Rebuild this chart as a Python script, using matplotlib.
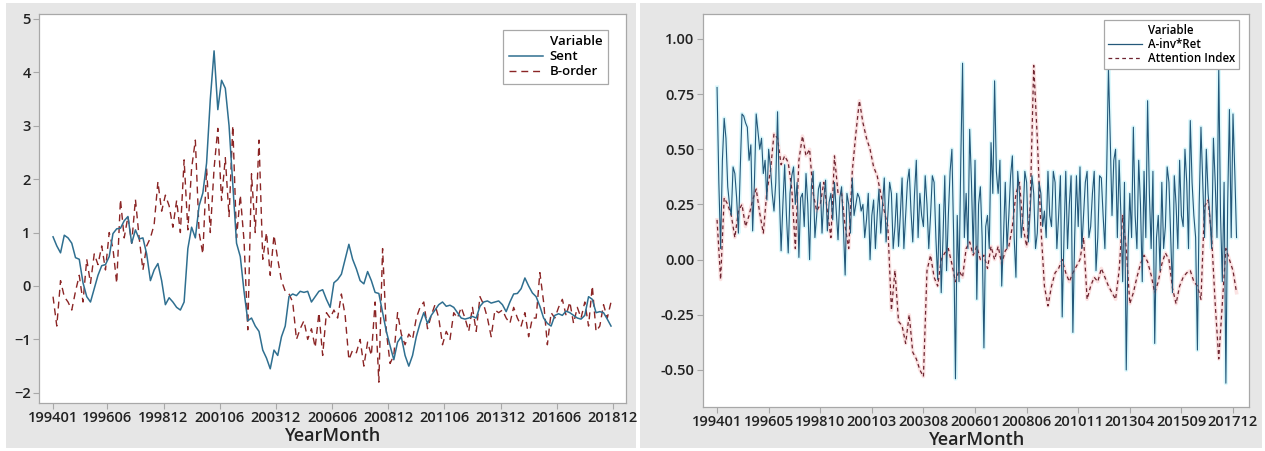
import numpy as np
import matplotlib.pyplot as plt
from matplotlib.lines import Line2D
from matplotlib.patches import Rectangle

plt.rcParams['font.family'] = ['Open Sans', 'DejaVu Sans']

# ---- left panel: sentiment vs B-order (every second month, 199401-201812) ----
sent = [0.92, 0.75, 0.62, 0.95, 0.9, 0.8, 0.53, 0.5, 0.06, -0.2,
        -0.3, -0.05, 0.2, 0.38, 0.4, 0.55, 0.98, 1.07, 1.08, 1.22,
        1.3, 0.8, 1.05, 0.88, 0.9, 0.6, 0.1, 0.3, 0.42, 0.1,
        -0.35, -0.22, -0.3, -0.4, -0.45, -0.3, 0.7, 1.1, 0.9, 1.5,
        1.74, 2.3, 3.5, 4.4, 3.3, 3.85, 3.7, 3.0, 1.9, 0.8,
        0.55, -0.1, -0.65, -0.6, -0.75, -0.85, -1.2, -1.35, -1.55, -1.2,
        -1.3, -0.95, -0.75, -0.2, -0.15, -0.18, -0.1, -0.12, -0.1, -0.3,
        -0.2, -0.1, -0.07, -0.25, -0.4, 0.06, 0.12, 0.22, 0.5, 0.78,
        0.5, 0.32, 0.1, 0.04, 0.27, 0.1, -0.12, -0.14, -0.5, -0.85,
        -1.12, -1.38, -1.05, -0.95, -1.3, -1.5, -1.3, -0.95, -0.7, -0.5,
        -0.7, -0.55, -0.45, -0.35, -0.3, -0.38, -0.36, -0.4, -0.5, -0.6,
        -0.62, -0.6, -0.57, -0.6, -0.38, -0.3, -0.28, -0.32, -0.3, -0.28,
        -0.35, -0.48, -0.3, -0.15, -0.14, -0.05, 0.15, 0.0, -0.13, -0.2,
        -0.38, -0.6, -0.7, -0.75, -0.55, -0.52, -0.55, -0.47, -0.5, -0.55,
        -0.6, -0.62, -0.55, -0.2, -0.25, -0.5, -0.48, -0.5, -0.62, -0.75]

border = [-0.2, -0.75, 0.1, -0.2, -0.3, -0.45, -0.1, 0.2, -0.3, 0.5,
          0.05, 0.6, 0.4, 0.75, 0.3, 1.0, 0.7, 0.05, 1.62, 0.9,
          1.3, 0.8, 1.62, 0.9, 0.3, 0.75, 0.9, 1.15, 1.95, 1.4,
          1.7, 1.5, 1.1, 1.6, 1.0, 2.36, 1.05, 2.2, 2.73, 1.0,
          0.6, 2.2, 1.0, 2.2, 2.95, 1.6, 2.4, 1.3, 3.0, 0.9,
          1.7, 0.85, -0.82, 2.1, 1.0, 2.73, 0.5, 1.0, 0.2, 0.95,
          0.5, 0.1, -0.1, -0.15, -0.3, -1.0, -0.8, -0.65, -1.0, -0.8,
          -1.15, -0.5, -1.3, -0.5, -0.6, -0.45, -0.6, -0.15, -0.55, -1.38,
          -1.2, -1.25, -1.0, -1.5, -1.05, -1.3, -0.3, -1.8, 0.7, -0.85,
          -1.45, -1.3, -0.5, -0.9, -1.1, -0.9, -1.0, -0.6, -0.4, -0.3,
          -0.8, -0.55, -0.35, -0.6, -1.1, -0.85, -1.0, -0.5, -0.6, -0.4,
          -0.6, -0.85, -0.4, -0.85, -0.2, -0.35, -0.6, -0.95, -0.45, -0.5,
          -0.45, -0.6, -0.7, -0.4, -0.6, -0.75, -0.5, -0.95, -0.6, -0.6,
          0.25, -0.3, -1.1, -0.5, -0.6, -0.4, -0.25, -0.55, -0.3, -0.7,
          -0.4, -0.6, -0.3, -0.75, 0.0, -0.85, -0.75, -0.35, -0.6, -0.3]

left_ticks = ['199401', '199606', '199812', '200106', '200312', '200606',
              '200812', '201106', '201312', '201606', '201812']
left_tick_pos = [0, 29, 59, 89, 119, 149, 179, 209, 239, 269, 299]

# ---- right panel: A-inv*Ret (monthly) vs attention index (every second month) ----
ainv = [0.78, 0.35, 0.05, 0.45, 0.64, 0.55, 0.33, 0.25, 0.2, 0.42,
        0.39, 0.28, 0.12, 0.4, 0.66, 0.65, 0.62, 0.6, 0.45, 0.52,
        0.13, 0.35, 0.66, 0.58, 0.5, 0.55, 0.39, 0.45, 0.27, 0.5,
        0.42, 0.3, 0.22, 0.35, 0.67, 0.3, 0.04, 0.25, 0.43, 0.2,
        0.03, 0.3, 0.38, 0.42, 0.25, 0.35, 0.01, 0.28, 0.3, 0.15,
        0.39, 0.25, 0.0, 0.33, 0.4, 0.1, 0.2, 0.32, 0.35, 0.12,
        0.28, 0.36, 0.13, 0.26, 0.3, 0.18, 0.35, 0.22, 0.09, 0.28,
        0.33, 0.15, -0.07, 0.3, 0.25, 0.12, 0.37, 0.2, 0.25, 0.3,
        0.28, 0.22, 0.25, 0.1, 0.18, 0.3, 0.0, 0.2, 0.27, 0.05,
        0.2, 0.32, 0.12, 0.25, 0.37, 0.08, 0.2, 0.35, 0.3, 0.05,
        0.15, 0.3, 0.06, 0.2, 0.37, 0.05, 0.2, 0.35, 0.41, 0.22,
        0.08, 0.3, 0.45, 0.1, 0.3, 0.2, 0.15, 0.38, 0.25, 0.05,
        0.2, 0.38, 0.35, 0.1, -0.09, 0.25, -0.15, 0.1, 0.38, -0.05,
        0.2, 0.4, 0.5, 0.1, -0.54, 0.2, -0.1, 0.45, 0.89, 0.1,
        0.3, 0.05, 0.59, 0.35, 0.03, 0.45, -0.18, 0.25, 0.33, 0.1,
        -0.4, 0.15, 0.2, 0.05, 0.53, 0.3, 0.81, 0.4, 0.3, 0.45,
        -0.12, 0.1, 0.35, 0.05, 0.2, 0.38, 0.47, 0.1, -0.08, 0.4,
        0.3, 0.1, 0.2, 0.4, 0.35, 0.08, 0.22, 0.38, 0.3, 0.05,
        0.12, 0.35, 0.3, 0.15, 0.22, 0.1, 0.4, 0.2, 0.15, 0.4,
        0.35, 0.05, 0.2, 0.38, -0.26, 0.1, 0.4, 0.05, 0.25, 0.38,
        -0.33, 0.1, 0.38, 0.15, 0.42, 0.05, 0.2, 0.35, 0.4, 0.1,
        0.15, 0.3, 0.4, -0.05, 0.1, 0.38, 0.37, 0.2, 0.05, 0.4,
        0.87, 0.55, 0.2, 0.45, 0.5, 0.1, 0.45, 0.2, -0.1, 0.35,
        -0.5, 0.05, 0.3, 0.1, 0.6, 0.2, 0.05, 0.45, 0.25, -0.1,
        0.4, 0.1, 0.72, 0.3, 0.05, 0.4, -0.38, 0.1, 0.2, -0.05,
        0.35, 0.05, 0.15, 0.42, 0.35, 0.1, -0.15, 0.38, 0.25, 0.05,
        0.45, 0.2, 0.15, 0.5, 0.35, 0.05, 0.63, 0.35, 0.2, 0.1,
        -0.41, 0.25, 0.6, 0.35, 0.1, 0.5, 0.3, 0.2, 0.05, 0.55,
        0.35, 0.1, 0.87, 0.2, -0.1, 0.35, -0.56, 0.25, 0.68, 0.1,
        0.66, 0.4, 0.1]

attention = [0.18, -0.09, 0.28, 0.25, 0.2, 0.1, 0.22, 0.25, 0.15, 0.2,
             0.27, 0.32, 0.21, 0.12, 0.31, 0.4, 0.57, 0.55, 0.43, 0.47,
             0.44, 0.32, 0.05, 0.45, 0.56, 0.47, 0.5, 0.3, 0.22, 0.25,
             0.35, 0.22, 0.1, 0.47, 0.3, 0.3, 0.15, 0.05, 0.4, 0.57,
             0.72, 0.62, 0.55, 0.5, 0.42, 0.38, 0.3, 0.22, 0.15, -0.23,
             -0.05, -0.28, -0.3, -0.38, -0.25, -0.42, -0.45, -0.5, -0.53, -0.05,
             0.02, -0.08, -0.12, 0.0, 0.03, 0.05, -0.02, -0.1, -0.05, -0.08,
             0.05, 0.08, 0.02, 0.06, 0.0, 0.02, -0.04, 0.06, 0.0, 0.06,
             -0.02, 0.04, 0.06, 0.15, 0.3, 0.35, 0.15, 0.06, 0.24, 0.88,
             0.55, 0.15, -0.12, -0.21, -0.12, -0.06, -0.04, 0.0, -0.06, -0.1,
             -0.06, -0.03, 0.0, 0.1, -0.18, -0.12, -0.08, -0.1, -0.04, -0.08,
             -0.12, -0.15, -0.18, -0.05, 0.2, 0.05, -0.2, -0.15, -0.08, -0.02,
             0.02, -0.01, -0.07, -0.15, -0.1, -0.02, 0.03, 0.0, -0.13, -0.2,
             -0.12, -0.08, -0.06, -0.05, -0.1, -0.12, -0.18, 0.24, 0.27, 0.1,
             -0.2, -0.45, -0.2, 0.05, 0.0, -0.05, -0.15]

right_ticks = ['199401', '199605', '199810', '200103', '200308', '200601',
               '200806', '201011', '201304', '201509', '201712']
right_tick_pos = [0, 29, 58, 87, 116, 145, 174, 203, 232, 261, 290]

x_left = np.arange(0, 2 * len(sent), 2)
x_ainv = np.arange(len(ainv))
x_att = np.arange(0, 2 * len(attention), 2)

fig = plt.figure(figsize=(12.65, 4.51), dpi=100)
W, H = 1265, 451

# grey graph windows behind each chart
for x0, x1 in [(6, 636), (640, 1262)]:
    fig.patches.append(Rectangle((x0 / W, 3 / H), (x1 - x0) / W, 445 / H,
                                 transform=fig.transFigure, facecolor='#e6e6e6',
                                 edgecolor='none', zorder=-10))

ax1 = fig.add_axes([39 / W, 1 - 403 / H, 587 / W, 389 / H])
ax2 = fig.add_axes([703 / W, 1 - 407 / H, 546 / W, 393 / H])

ax1.plot(x_left, sent, color='#2f6f90', lw=1.1, label='Sent', zorder=3)
ax1.plot(x_left, border, color='#8b2525', lw=1.0, dashes=(5, 3.5),
         label='B-order', zorder=2)
ax1.set_xlim(-7.5, 306)
ax1.set_ylim(-2.19, 5.09)
ax1.set_yticks(range(-2, 6))
ax1.set_xticks(left_tick_pos)
ax1.set_xticklabels(left_ticks)

# soft halo under the right-hand lines
ax2.plot(x_ainv, ainv, color='#dcf8fc', lw=3.0, zorder=1)
ax2.plot(x_att, attention, color='#fbe3e3', lw=2.6, zorder=1)
ax2.plot(x_ainv, ainv, color='#24587a', lw=0.8, label='A-inv*Ret', zorder=3)
ax2.plot(x_att, attention, color='#6e2430', lw=0.9, dashes=(3, 2.5),
         label='Attention Index', zorder=2)
ax2.set_xlim(-7.9, 299)
ax2.set_ylim(-0.668, 1.113)
ax2.set_yticks([-0.5, -0.25, 0, 0.25, 0.5, 0.75, 1.0])
ax2.set_yticklabels(['-0.50', '-0.25', '0.00', '0.25', '0.50', '0.75', '1.00'])
ax2.set_xticks(right_tick_pos)
ax2.set_xticklabels(right_ticks)

for ax in (ax1, ax2):
    ax.set_zorder(1)
    ax.set_facecolor('white')
    for sp in ax.spines.values():
        sp.set_color('#a8a8a8')
        sp.set_linewidth(0.9)
    ax.tick_params(length=4, width=0.8, color='#a8a8a8', labelcolor='#222222',
                   labelsize=10.5, pad=2)
    for lab in ax.get_xticklabels() + ax.get_yticklabels():
        lab.set_fontweight('semibold')
    ax.set_xlabel('YearMonth', fontsize=13, fontweight='semibold',
                  color='#222222', labelpad=1)

blank = Line2D([], [], color='none')

h1 = [blank,
      Line2D([], [], color='#2f6f90', lw=1.1),
      Line2D([], [], color='#8b2525', lw=1.0, dashes=(5, 3.5))]
leg1 = ax1.legend(h1, ['Variable', 'Sent', 'B-order'], loc='upper right',
                  bbox_to_anchor=(0.981, 0.977), fancybox=False,
                  framealpha=1, edgecolor='#a8a8a8', fontsize=9.5,
                  handlelength=2.6, handletextpad=0.5, borderpad=0.45,
                  labelspacing=0.15)
leg1.get_frame().set_linewidth(0.9)

h2 = [blank,
      Line2D([], [], color='#24587a', lw=0.9),
      Line2D([], [], color='#6e2430', lw=0.9, dashes=(3, 2.5))]
leg2 = ax2.legend(h2, ['Variable', 'A-inv*Ret', 'Attention Index'],
                  loc='upper right', bbox_to_anchor=(0.9927, 1.0),
                  fancybox=False, framealpha=1, edgecolor='#a8a8a8',
                  fontsize=8.3, handlelength=3.0, handletextpad=0.5,
                  borderpad=0.35, labelspacing=0.1)
leg2.get_frame().set_linewidth(0.9)
for leg in (leg1, leg2):
    for t in leg.get_texts():
        t.set_fontweight('semibold')

fig.savefig('out.png', dpi=100, facecolor='white')
